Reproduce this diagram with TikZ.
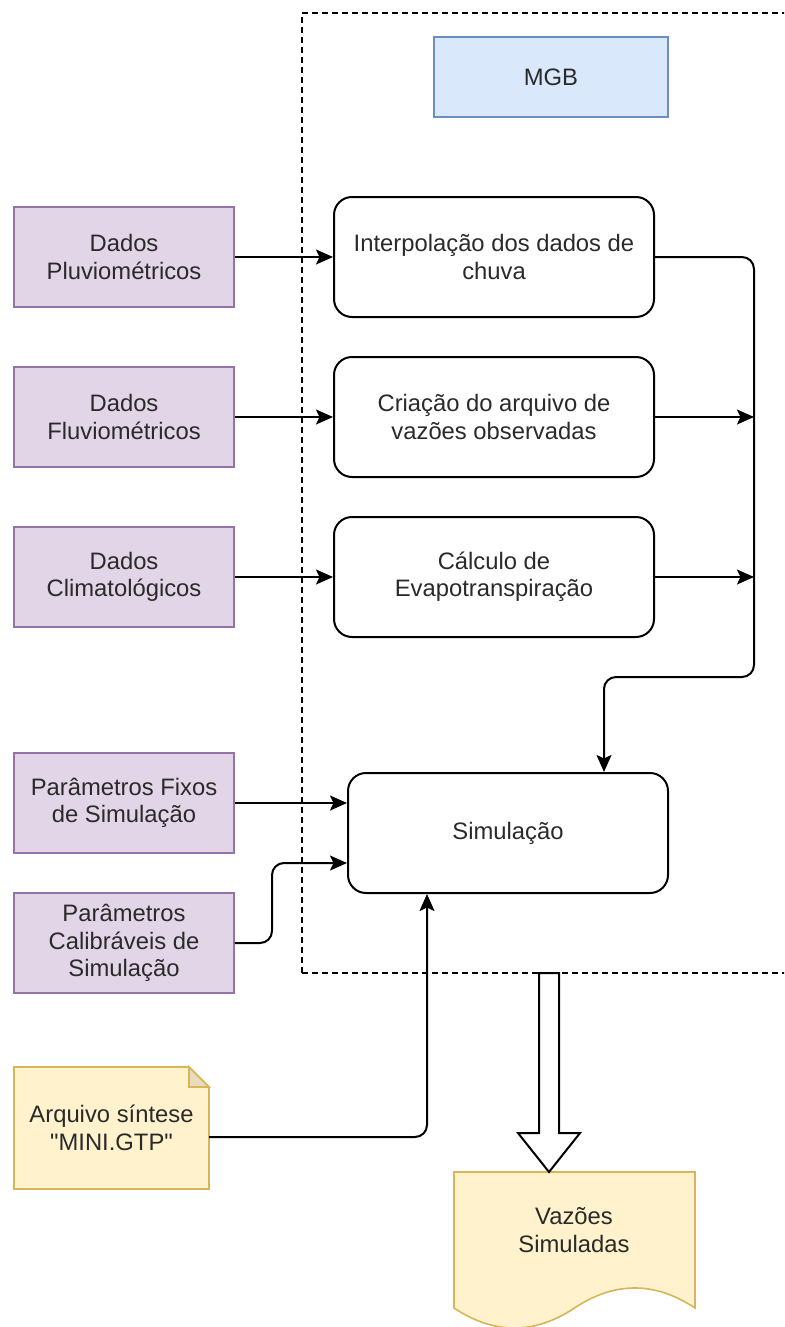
\documentclass[tikz,border=0pt]{standalone}
\usepackage{fontspec}
\setmainfont{Liberation Sans}
\newfontfamily\quotefont{Liberation Sans}
\usetikzlibrary{arrows.meta,calc}
\definecolor{purpf}{HTML}{E1D5E7}
\definecolor{purpd}{HTML}{9673A6}
\definecolor{bluef}{HTML}{DAE8FC}
\definecolor{blued}{HTML}{6C8EBF}
\definecolor{yellf}{HTML}{FFF2CC}
\definecolor{yelld}{HTML}{D6B656}
\definecolor{foldc}{HTML}{E8DCBC}
\definecolor{textc}{HTML}{2A2A2A}
\begin{document}
\begin{tikzpicture}[x=1pt,y=-1pt,
  txt/.style={font=\fontsize{23.8}{27.5}\selectfont, text=textc, align=center},
  databox/.style={txt, draw=purpd, fill=purpf, line width=1.6pt, minimum width=220pt, minimum height=100pt, inner sep=0pt},
  procbox/.style={txt, draw=black, fill=white, rounded corners=18pt, line width=2pt, minimum width=320pt, minimum height=120pt, inner sep=0pt},
  conn/.style={draw=black, line width=2pt, rounded corners=12pt, -{Stealth[length=17pt,width=15pt,inset=3.5pt]}},
  groupbox/.style={draw=black, line width=1.8pt, dash pattern=on 6pt off 4pt, minimum width=498pt, minimum height=960pt, inner sep=0pt}
]
\clip (0,0) rectangle (784,1327);
\useasboundingbox (0,0) rectangle (784,1327);

% group container
\node[groupbox] (group) at (551,493) {};

% MGB label box
\node[txt, draw=blued, fill=bluef, line width=1.6pt, minimum width=234pt, minimum height=80pt, inner sep=0pt] (mgb) at (551,77) {MGB};

% data boxes
\node[databox] (pluv) at (124,257) {Dados\\Pluviométricos};
\node[databox] (fluv) at (124,417) {Dados\\Fluviométricos};
\node[databox] (clim) at (124,577) {Dados\\Climatológicos};
\node[databox] (fixos) at (124,803) {Parâmetros Fixos\\de Simulação};
\node[databox] (calib) at (124,943) {Parâmetros\\Calibráveis de\\Simulação};

% process boxes
\node[procbox] (interp) at (494,257) {Interpolação dos dados de\\chuva};
\node[procbox] (criacao) at (494,417) {Criação do arquivo de\\vazões observadas};
\node[procbox] (calcev) at (494,577) {Cálculo de\\Evapotranspiração};
\node[procbox] (sim) at (508,833) {Simulação};

% note shape
\draw[draw=yelld, fill=yellf, line width=1.6pt, line join=miter]
  (14,1067) -- (189,1067) -- (209,1087) -- (209,1189) -- (14,1189) -- cycle;
\draw[draw=yelld, fill=foldc, line width=1.6pt, line join=miter]
  (189,1067) -- (189,1087) -- (209,1087) -- cycle;
\node[txt, minimum width=195pt, minimum height=122pt, inner sep=0pt] (note) at (111.5,1128) {Arquivo síntese\\{\quotefont"}MINI.GTP{\quotefont"}};

% document shape
\draw[draw=yelld, fill=yellf, line width=1.6pt]
  (454,1172) -- (695,1172) -- (695,1308)
  .. controls (654.8,1281.3) and (614.7,1281.3) .. (574.5,1308)
  .. controls (534.3,1334.7) and (494.2,1334.7) .. (454,1308) -- cycle;
\node[txt, inner sep=0pt] (doc) at (574,1230) {Vazões\\Simuladas};
\coordinate (doctop) at (549,1172);

% connectors
\draw[conn] (pluv.east) -- (interp.west);
\draw[conn] (fluv.east) -- (criacao.west);
\draw[conn] (clim.east) -- (calcev.west);
\coordinate (bus) at (754,677);
\draw[conn] (criacao.east) -- (criacao.east -| bus);
\draw[conn] (calcev.east) -- (calcev.east -| bus);
\draw[conn] (interp.east) -| (bus) -| ($(sim.north east)+(-65,0)$);
\draw[conn] (fixos.east) -- (fixos.east -| sim.west);
\draw[conn] (calib.east) -| ($(sim.west)+(-75,30)$) -- ($(sim.west)+(0,30)$);
\draw[conn] ($(note.east)+(0,9)$) -| ($(sim.south west)+(80,0)$);

% hollow flex arrow to output document
\draw[line width=2pt, fill=white, line join=miter]
  (539,973) -- (559,973) -- (559,1133) -- (580,1133) -- (doctop) -- (518,1133) -- (539,1133) -- cycle;
\end{tikzpicture}
\end{document}
